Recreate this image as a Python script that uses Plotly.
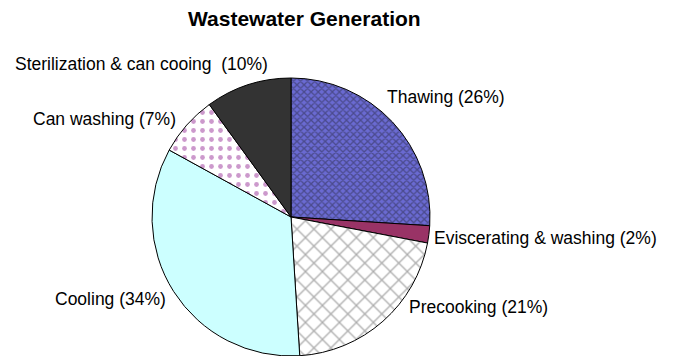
import plotly.graph_objects as go

# Data (clockwise from 12 o'clock)
labels = ["Thawing", "Eviscerating & washing", "Precooking", "Cooling",
          "Can washing", "Sterilization & can cooing\u00a0"]
values = [26, 2, 21, 34, 7, 10]

colors = ["#6a6ad2", "#993366", "#ffffff", "#ccffff", "#ffffff", "#333333"]
pat_shapes = ["x", "", "x", "", ".", ""]
pat_fg = ["#2c2c48", "#993366", "#5a5a5a", "#ccffff", "#993399", "#333333"]
pat_size = [5, 8, 12, 8, 9, 8]
pat_sol = [0.45, 0.3, 0.2, 0.3, 0.22, 0.3]

W, H = 673, 356
FONT = "Liberation Sans, Arial, sans-serif"

# Pie geometry (pixels)
cx, cy, r = 291, 217, 139

fig = go.Figure(go.Pie(
    labels=labels, values=values, sort=False, direction="clockwise",
    rotation=0, textinfo="none", hoverinfo="label+percent",
    marker=dict(colors=colors, line=dict(color="#000000", width=1),
                pattern=dict(shape=pat_shapes, fgcolor=pat_fg, size=pat_size,
                             solidity=pat_sol, fillmode="overlay")),
    domain=dict(x=[(cx - r) / W, (cx + r) / W], y=[1 - (cy + r) / H, 1 - (cy - r) / H]),
    showlegend=False,
))

# Label placements (pixel anchor, xanchor)
label_pos = [(385, 97, "left"), (432, 238, "left"), (407, 307, "left"),
             (168, 299, "right"), (31, 119, "left"), (13, 64, "left")]

annotations = []
for lab, v, (px, py, xa) in zip(labels, values, label_pos):
    annotations.append(dict(
        text=f"{lab} ({v}%)", x=px / W, y=1 - py / H, xref="paper", yref="paper",
        xanchor=xa, yanchor="middle", showarrow=False,
        font=dict(family=FONT, size=17.5, color="#000000")))

annotations.append(dict(
    text="<b>Wastewater Generation</b>", x=304 / W, y=1 - 18 / H,
    xref="paper", yref="paper", xanchor="center", yanchor="middle",
    showarrow=False, font=dict(family=FONT, size=21, color="#000000")))

fig.update_layout(
    width=W, height=H, margin=dict(l=0, r=0, t=0, b=0),
    paper_bgcolor="#ffffff", plot_bgcolor="#ffffff",
    annotations=annotations,
)

fig.write_html("out.html")
